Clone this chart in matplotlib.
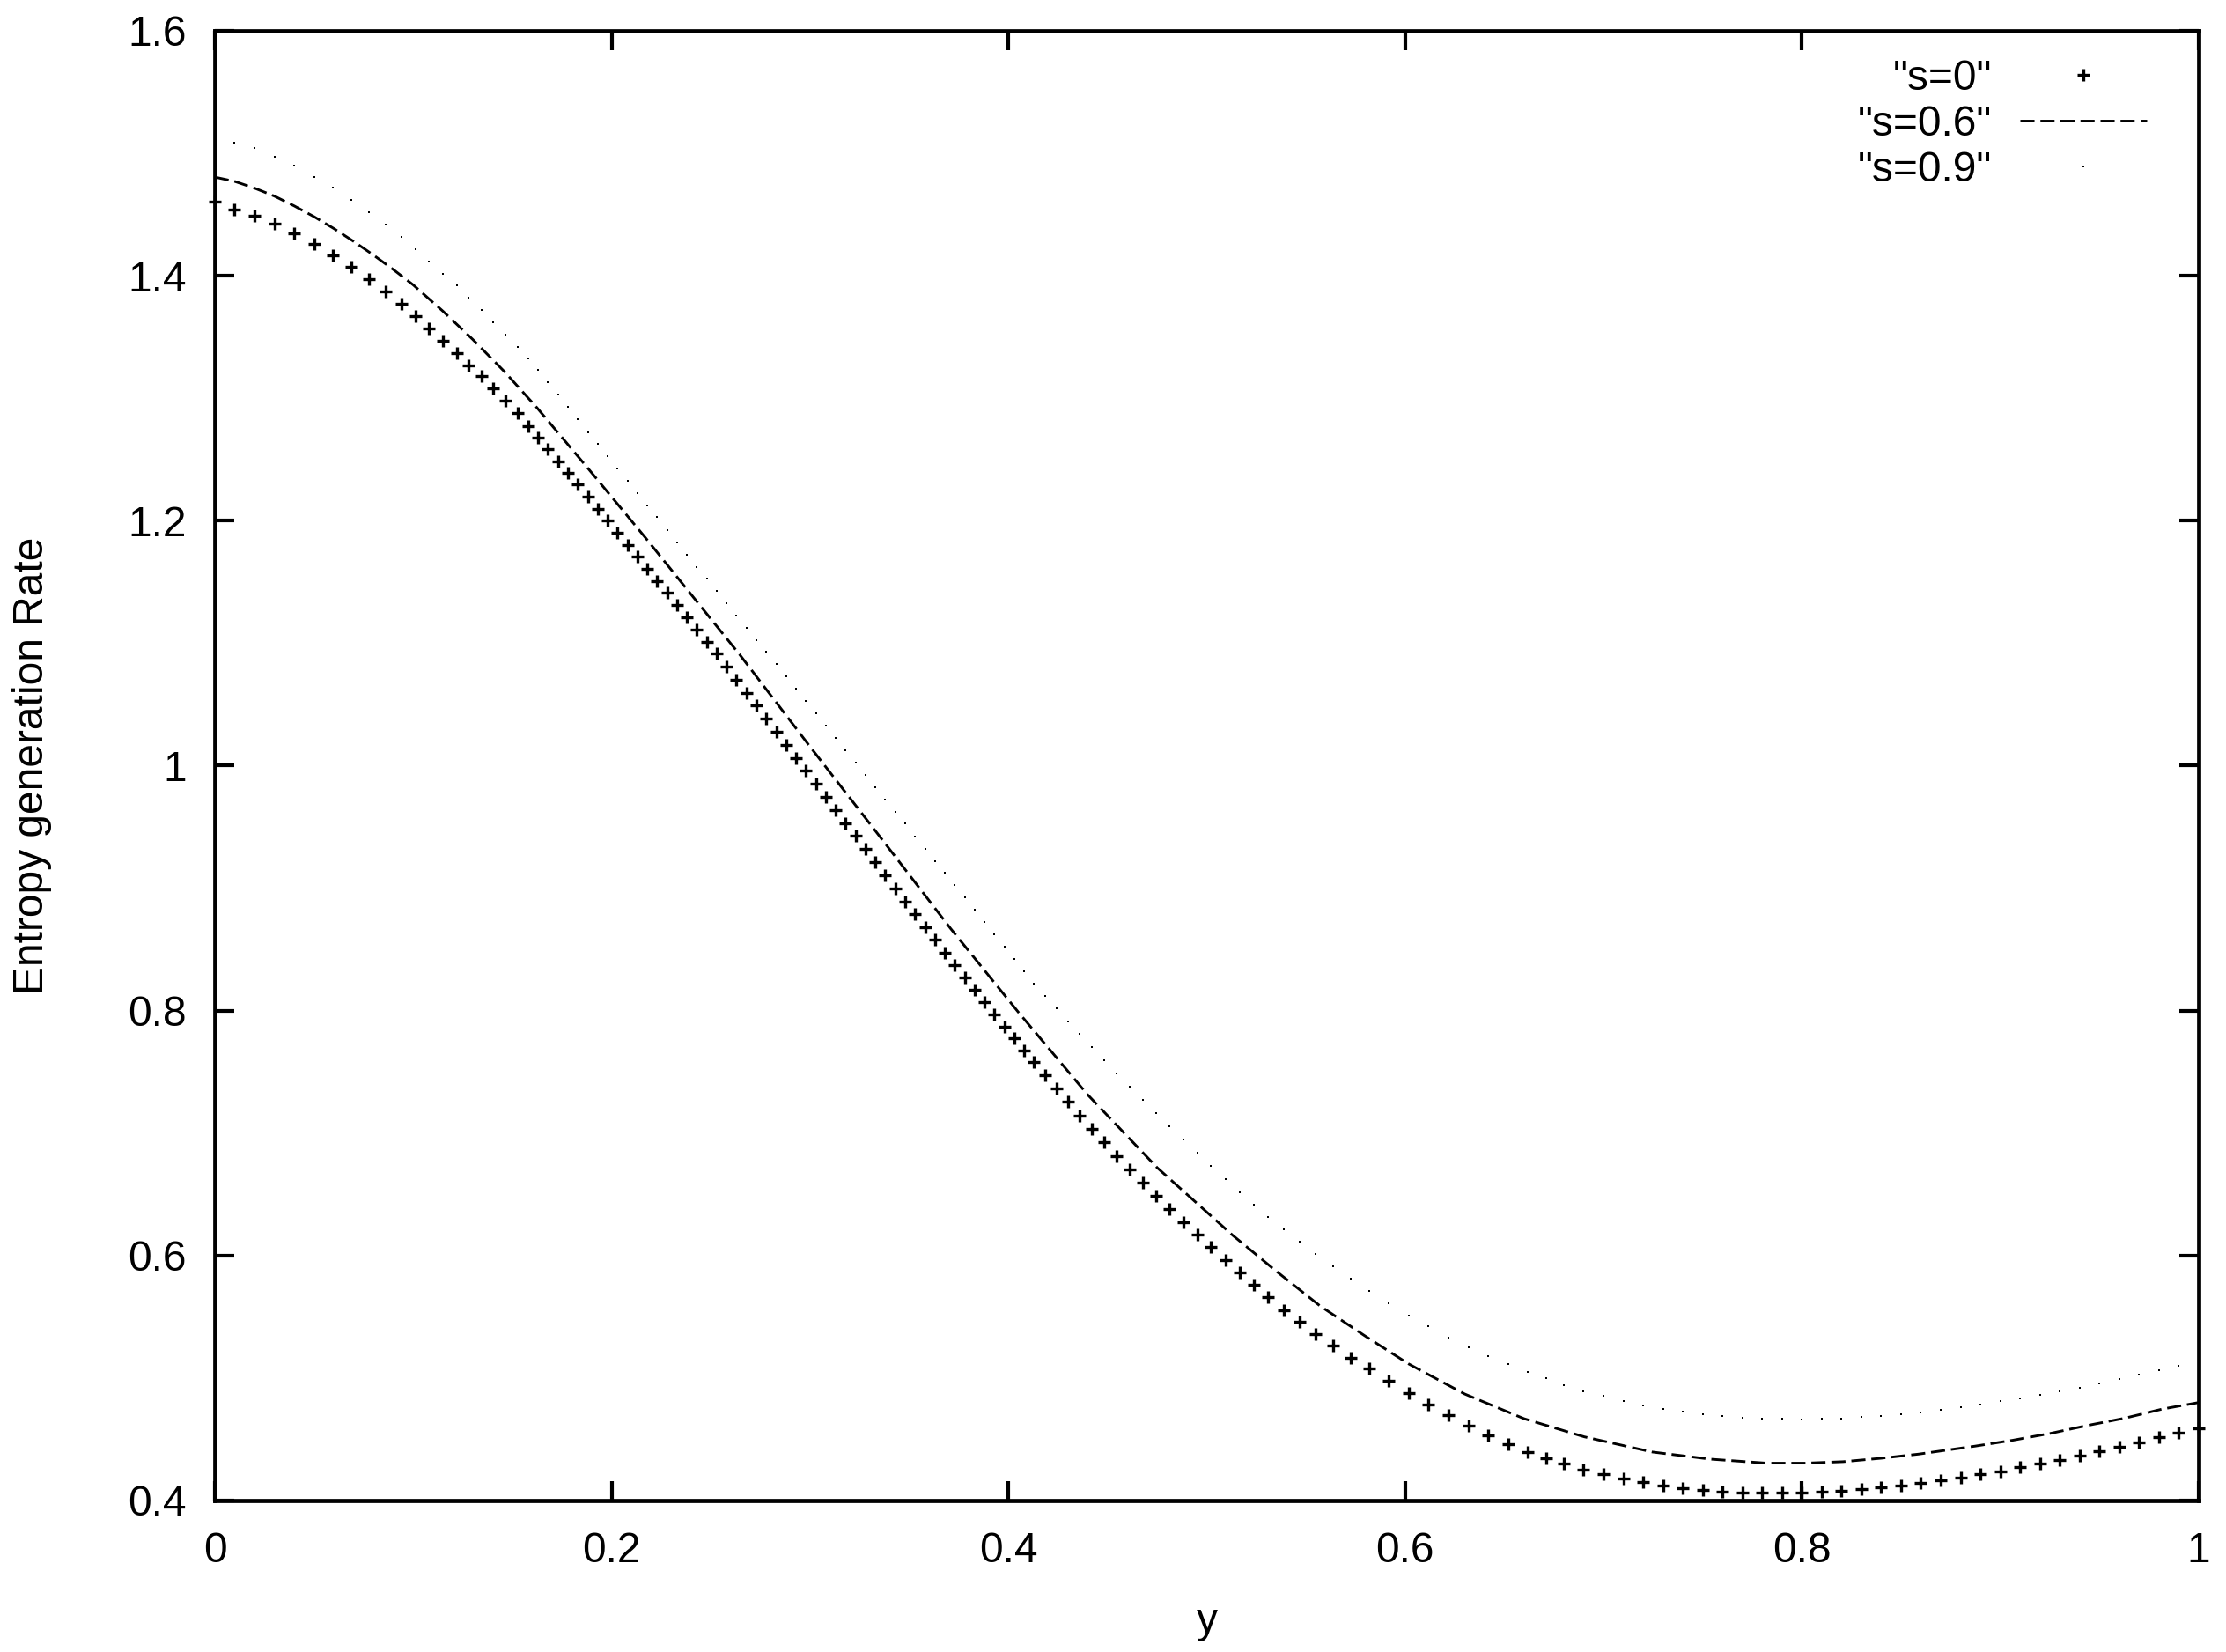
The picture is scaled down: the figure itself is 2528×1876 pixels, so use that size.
import numpy as np
import matplotlib
matplotlib.use('Agg')
import matplotlib.pyplot as plt
from matplotlib.ticker import FuncFormatter

plt.rcParams['font.family'] = ['Liberation Sans', 'DejaVu Sans']

# sample positions (the solver grid is finer in the steep part)
y_grid = [0.00, 0.01, 0.02, 0.03, 0.04, 0.05,
          0.0595, 0.069, 0.0775, 0.086, 0.094, 0.101, 0.108, 0.115, 0.122, 0.128,
          0.1345, 0.1405, 0.1465, 0.1525, 0.158,
          0.163, 0.168, 0.173, 0.178, 0.183, 0.188, 0.193, 0.198, 0.203, 0.208,
          0.213, 0.218, 0.223, 0.228, 0.233, 0.238, 0.243, 0.248, 0.253, 0.258,
          0.263, 0.268, 0.273, 0.278, 0.283, 0.288, 0.293, 0.298, 0.303, 0.308,
          0.313, 0.318, 0.323, 0.328, 0.333, 0.338, 0.343, 0.348, 0.353, 0.358,
          0.363, 0.368, 0.373, 0.378, 0.383, 0.388, 0.393, 0.398, 0.403, 0.408, 0.413,
          0.4185,
          0.4242, 0.4301, 0.4361, 0.4422, 0.4484, 0.4547, 0.4612, 0.4678, 0.4745,
          0.4813, 0.4882, 0.4952, 0.5022, 0.5094,
          0.5166, 0.5237, 0.5307, 0.5387, 0.5467, 0.5549, 0.5637, 0.5728, 0.5818,
          0.5918, 0.6017, 0.6118, 0.6217, 0.6319, 0.6417, 0.6519,
          0.662, 0.671, 0.68,
          0.69, 0.70, 0.71, 0.72, 0.73, 0.74, 0.75, 0.76, 0.77, 0.78, 0.79, 0.80,
          0.81, 0.82, 0.83, 0.84, 0.85, 0.86, 0.87, 0.88, 0.89, 0.90, 0.91, 0.92,
          0.93, 0.94, 0.95, 0.96, 0.97, 0.98, 0.99, 1.00]

# s = 0
s0 = [1.4602, 1.4541, 1.4491, 1.4427, 1.4348, 1.4261,
      1.4165, 1.4070, 1.3969, 1.3868, 1.3770, 1.3667, 1.3566, 1.3468, 1.3369, 1.3266,
      1.3178, 1.3079, 1.2978, 1.2877, 1.2774,
      1.2678, 1.2583, 1.2487, 1.2390, 1.2293, 1.2195, 1.2097, 1.1999, 1.1901, 1.1803,
      1.1705, 1.1606, 1.1508, 1.1409, 1.1310, 1.1211, 1.1112, 1.1013, 1.0914, 1.0808,
      1.0702, 1.0596, 1.0490, 1.0383, 1.0277, 1.0170, 1.0064, 0.9957, 0.9851, 0.9744,
      0.9638, 0.9531, 0.9425, 0.9318, 0.9212, 0.9105, 0.8995, 0.8890, 0.8785, 0.8680,
      0.8576, 0.8472, 0.8370, 0.8268, 0.8168, 0.8068, 0.7969, 0.7870, 0.7772, 0.7675, 0.7579,
      0.7474,
      0.7367, 0.7256, 0.7145, 0.7034, 0.6923, 0.6813, 0.6704, 0.6595, 0.6487,
      0.6380, 0.6274, 0.6170, 0.6068, 0.5966,
      0.5862, 0.5760, 0.5664, 0.5556, 0.5460, 0.5359, 0.5263, 0.5168, 0.5075,
      0.4975, 0.4879, 0.4785, 0.4698, 0.4614, 0.4535, 0.4462,
      0.4398, 0.4347, 0.4300,
      0.4255, 0.4214, 0.4178, 0.4148, 0.4120, 0.4100, 0.4083, 0.4071, 0.4064, 0.4062, 0.4063, 0.4067,
      0.4073, 0.4082, 0.4094, 0.4107, 0.4122, 0.4142, 0.4163, 0.4188, 0.4212, 0.4239, 0.4270, 0.4300,
      0.4332, 0.4367, 0.4402, 0.4440, 0.4477, 0.4514, 0.4553, 0.4592]

# s = 0.9
s09 = [1.5105, 1.5084, 1.5041, 1.4969, 1.4897, 1.4808,
       1.4717, 1.4617, 1.4518, 1.4415, 1.4319, 1.4218, 1.4117, 1.4017, 1.3919, 1.3818,
       1.3718, 1.3619, 1.3518, 1.3415, 1.3326,
       1.3230, 1.3127, 1.3027, 1.2926, 1.2827, 1.2724, 1.2626, 1.2527, 1.2427, 1.2326,
       1.2228, 1.2127, 1.2027, 1.1926, 1.1825, 1.1725, 1.1624, 1.1528, 1.1427, 1.1324,
       1.1223, 1.1128, 1.1024, 1.0928, 1.0828, 1.0728, 1.0628, 1.0527, 1.0427, 1.0326,
       1.0226, 1.0126, 1.0025, 0.9925, 0.9824, 0.9724, 0.9624, 0.9525, 0.9424, 0.9322,
       0.9221, 0.9125, 0.9024, 0.8926, 0.8825, 0.8724, 0.8624, 0.8525, 0.8424, 0.8324, 0.8223,
       0.8122,
       0.8022, 0.7914, 0.7807, 0.7699, 0.7592, 0.7484, 0.7377, 0.7269, 0.7161,
       0.7054, 0.6946, 0.6839, 0.6731, 0.6624,
       0.6516, 0.6415, 0.6317, 0.6214, 0.6113, 0.6012, 0.5911, 0.5811, 0.5712,
       0.5609, 0.5513, 0.5422, 0.5329, 0.5250, 0.5182, 0.5113,
       0.5052, 0.4996, 0.4942,
       0.4890, 0.4854, 0.4813, 0.4775, 0.4750, 0.4724, 0.4703, 0.4690, 0.4678, 0.4670, 0.4665, 0.4664,
       0.4666, 0.4672, 0.4681, 0.4692, 0.4704, 0.4722, 0.4741, 0.4760, 0.4782, 0.4810, 0.4837, 0.4865,
       0.4893, 0.4923, 0.4957, 0.4993, 0.5027, 0.5063, 0.5097, 0.5133]

# s = 0.6 (drawn as a dashed line)
y_dash = [0.0, 0.01, 0.02, 0.03, 0.04, 0.05, 0.06, 0.07, 0.08, 0.09, 0.10, 0.115, 0.13,
          0.1461, 0.1625, 0.1875, 0.2171, 0.2467, 0.2647, 0.30, 0.3354, 0.3709, 0.4049,
          0.44, 0.475, 0.5129, 0.535, 0.5572, 0.5794, 0.6016, 0.63, 0.66, 0.6903, 0.7246,
          0.7536, 0.7823, 0.8016, 0.8208, 0.84, 0.8589, 0.8873, 0.9063, 0.925, 0.9437,
          0.9627, 0.9815, 1.0]
s06 = [1.4805, 1.4770, 1.4715, 1.4650, 1.4570, 1.4482, 1.4385, 1.4280, 1.4168, 1.4050,
       1.3925, 1.3710, 1.3480, 1.3215, 1.2920, 1.2439, 1.1860, 1.1265, 1.0904, 1.0156,
       0.9417, 0.8670, 0.7990, 0.7313, 0.6718, 0.6168, 0.5873, 0.5588, 0.5348, 0.5117,
       0.4870, 0.4668, 0.4520, 0.4396, 0.4338, 0.4305, 0.4305, 0.4317, 0.4345, 0.4379,
       0.4444, 0.4492, 0.4547, 0.4612, 0.4672, 0.4746, 0.4800]

xticks = [0, 0.2, 0.4, 0.6, 0.8, 1]
yticks = [0.4, 0.6, 0.8, 1.0, 1.2, 1.4, 1.6]

fs = 34.5

fig = plt.figure(figsize=(25.28, 18.76), dpi=100)
ax = fig.add_axes([0.0965, 0.0917, 0.8912, 0.8897])

ax.plot(y_grid, s0, linestyle='none', marker='+', ms=9.5, mew=2.4, color='black',
        clip_on=False, label='"s=0"')
ax.plot(y_dash, s06, linestyle=(0, (5.5, 2.3)), lw=2.1, color='black', label='"s=0.6"')
ax.plot(y_grid, s09, linestyle='none', marker='s', ms=1.9, mew=0, color='black',
        label='"s=0.9"')

ax.set_xlim(0, 1)
ax.set_ylim(0.4, 1.6)
ax.set_xticks(xticks)
ax.set_yticks(yticks)
fmt = FuncFormatter(lambda v, p: '%g' % v)
ax.xaxis.set_major_formatter(fmt)
ax.yaxis.set_major_formatter(fmt)
ax.tick_params(direction='in', length=16, width=3, top=True, right=True,
               labelsize=fs, color='black')
ax.tick_params(axis='x', pad=25)
ax.tick_params(axis='y', pad=23)
for sp in ax.spines.values():
    sp.set_linewidth(3.4)

ax.set_xlabel('y', fontsize=fs)
ax.set_ylabel('Entropy generation Rate', fontsize=fs)
ax.xaxis.set_label_coords(0.5, -0.069)
ax.yaxis.set_label_coords(-0.082, 0.5)

ax.legend(loc='upper right', bbox_to_anchor=(0.9738, 0.981), frameon=False,
          markerfirst=False, fontsize=fs, borderpad=0, borderaxespad=0,
          handlelength=3.0, handletextpad=0.67, labelspacing=0.15, numpoints=1)

fig.savefig('out.png', dpi=100, facecolor='white')
